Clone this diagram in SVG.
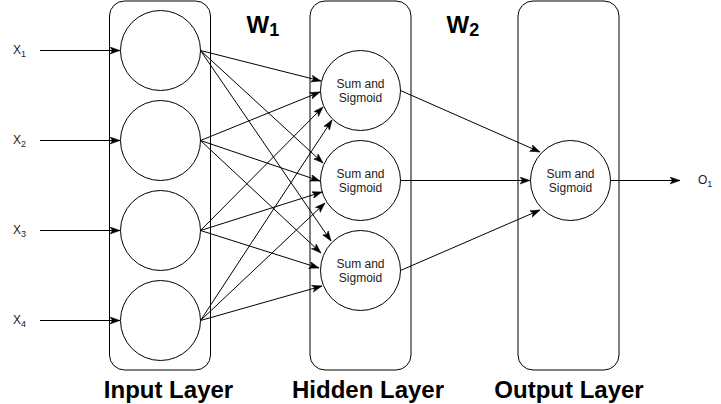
<svg xmlns="http://www.w3.org/2000/svg" width="721" height="404" viewBox="0 0 721 404">
<style>
.box{fill:#fff;stroke:#000;stroke-width:1}
.node{fill:#fff;stroke:#000;stroke-width:1}
.edge{fill:none;stroke:#000;stroke-width:1;marker-end:url(#arr)}
.lbl{font-family:"Liberation Sans",Arial,sans-serif;font-size:12px;fill:#222}
.sub{font-size:9px}
.big{font-family:"Liberation Sans",Arial,sans-serif;font-size:24px;font-weight:bold;fill:#000}
.bigsub{font-size:18px}
.ctr{text-anchor:middle}
</style>
<defs>
<marker id="arr" markerUnits="userSpaceOnUse" markerWidth="11" markerHeight="8" refX="10" refY="3.5" orient="auto">
<path d="M0,0 L10,3.5 L0,7 L2.5,3.5 Z" fill="#000" stroke="#000" stroke-width="0.5"/>
</marker>
</defs>
<g id="layers">
<rect id="input-layer" class="box" x="109.5" y="1" width="101" height="369" rx="15" ry="15"/>
<rect id="hidden-layer" class="box" x="310" y="1" width="101" height="369" rx="15" ry="15"/>
<rect id="output-layer" class="box" x="518" y="1" width="101" height="369" rx="15" ry="15"/>
</g>
<g id="input-nodes">
<circle id="in1" class="node" cx="160.5" cy="50.5" r="40"/>
<circle id="in2" class="node" cx="160.5" cy="140.5" r="40"/>
<circle id="in3" class="node" cx="160.5" cy="230.5" r="40"/>
<circle id="in4" class="node" cx="160.5" cy="320.5" r="40"/>
</g>
<g id="hidden-nodes">
<g id="h1"><circle class="node" cx="360.5" cy="90.5" r="40"/>
<text class="lbl ctr" x="360.5" y="87.5">Sum and</text><text class="lbl ctr" x="360.5" y="101.5">Sigmoid</text></g>
<g id="h2"><circle class="node" cx="360.5" cy="180.5" r="40"/>
<text class="lbl ctr" x="360.5" y="177.5">Sum and</text><text class="lbl ctr" x="360.5" y="191.5">Sigmoid</text></g>
<g id="h3"><circle class="node" cx="360.5" cy="270.5" r="40"/>
<text class="lbl ctr" x="360.5" y="267.5">Sum and</text><text class="lbl ctr" x="360.5" y="281.5">Sigmoid</text></g>
</g>
<g id="output-node">
<circle class="node" cx="570.5" cy="180.5" r="40"/>
<text class="lbl ctr" x="570.5" y="177.5">Sum and</text><text class="lbl ctr" x="570.5" y="191.5">Sigmoid</text>
</g>
<g id="connectors">
<path class="edge" d="M40,50.5 L120,50.5"/>
<path class="edge" d="M40,140.5 L120,140.5"/>
<path class="edge" d="M40,230.5 L120,230.5"/>
<path class="edge" d="M40,320.5 L120,320.5"/>
<path class="edge" d="M200.5,50.5 L321,81"/>
<path class="edge" d="M200.5,50.5 L323,163"/>
<path class="edge" d="M200.5,50.5 L331,241"/>
<path class="edge" d="M200.5,140.5 L320,92"/>
<path class="edge" d="M200.5,140.5 L320,181"/>
<path class="edge" d="M200.5,140.5 L321,253"/>
<path class="edge" d="M200.5,230.5 L323,107"/>
<path class="edge" d="M200.5,230.5 L322,192"/>
<path class="edge" d="M200.5,230.5 L319,268"/>
<path class="edge" d="M200.5,320.5 L332,120"/>
<path class="edge" d="M200.5,320.5 L325,203"/>
<path class="edge" d="M200.5,320.5 L322,286"/>
<path class="edge" d="M400.5,90.5 L540,152"/>
<path class="edge" d="M400.5,180.5 L530,180.5"/>
<path class="edge" d="M400.5,270.5 L540,210"/>
<path class="edge" d="M610.5,180.5 L680,180.5"/>
</g>
<g id="labels">
<text class="lbl" x="13" y="54">X<tspan class="sub" dy="3">1</tspan></text>
<text class="lbl" x="13" y="144">X<tspan class="sub" dy="3">2</tspan></text>
<text class="lbl" x="13" y="233.5">X<tspan class="sub" dy="3">3</tspan></text>
<text class="lbl" x="13" y="324">X<tspan class="sub" dy="3">4</tspan></text>
<text class="lbl" x="698" y="184">O<tspan class="sub" dy="3">1</tspan></text>
<text class="big" x="246.5" y="32.5">W<tspan class="bigsub" dy="3.5">1</tspan></text>
<text class="big" x="446.5" y="32.5">W<tspan class="bigsub" dy="3.5">2</tspan></text>
<text class="big ctr" x="168.5" y="398">Input Layer</text>
<text class="big ctr" x="368" y="398">Hidden Layer</text>
<text class="big ctr" x="569" y="398">Output Layer</text>
</g>
</svg>
